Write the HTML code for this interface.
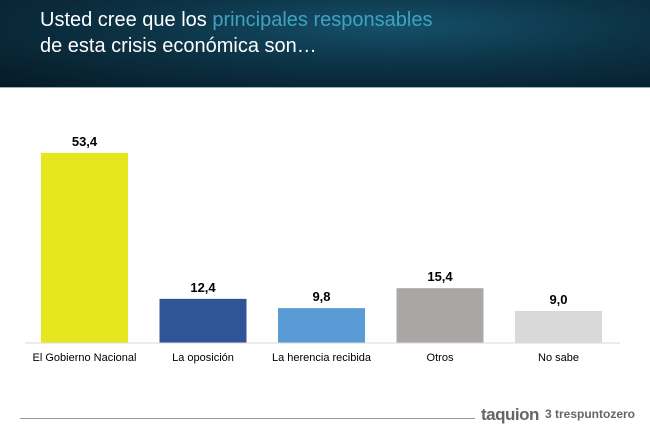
<!DOCTYPE html>
<html><head><meta charset="utf-8"><style>
body{margin:0;width:650px;height:433px;overflow:hidden;background:#fff;font-family:"Liberation Sans",sans-serif;position:relative}
#hdr{position:absolute;left:0;top:0;width:650px;height:87px;background:radial-gradient(ellipse at 60% 30%,#15506a 0%,#0c3346 45%,#061a26 100%);border-bottom:1px solid #8fb3c0}
#hdr div{position:absolute;left:40px;color:#fff;font-size:20px}
</style></head><body>
<div id="hdr">
<div style="top:9px">Usted cree que los <span style="color:#3fa3c0">principales responsables</span></div>
<div style="top:35px">de esta crisis económica son…</div>
</div>
<svg id="chart" width="650" height="433" style="position:absolute;left:0;top:0"></svg>
<div style="position:absolute;left:20px;top:418px;width:455px;height:1px;background:#999"></div>
<div style="position:absolute;left:481px;top:405px;font-size:17px;color:#666;font-weight:bold;letter-spacing:-0.5px">taquion</div>
<div style="position:absolute;left:545px;top:407px;font-size:12px;color:#666;font-weight:bold">3 trespuntozero</div>
<script>
const categories=["El Gobierno Nacional","La oposición","La herencia recibida","Otros","No sabe"];
const values=[53.4,12.4,9.8,15.4,9.0];
const labels=["53,4","12,4","9,8","15,4","9,0"];
const colors=["#e6e61e","#2f5597","#5b9bd5","#aba6a6","#d9d9d9"];
const svg=document.getElementById('chart');
const NS="http://www.w3.org/2000/svg";
const base=343,scale=3.56;
const x=i=>41+i*118.5;
const y=v=>base-v*scale;
categories.forEach((c,i)=>{
 const r=document.createElementNS(NS,'rect');
 r.setAttribute('x',x(i));r.setAttribute('y',y(values[i]));
 r.setAttribute('width',87);r.setAttribute('height',base-y(values[i]));
 r.setAttribute('fill',colors[i]);
 
 
 svg.appendChild(r);
 const t=document.createElementNS(NS,'text');
 t.setAttribute('x',x(i)+43.5);t.setAttribute('y',y(values[i])-7);
 t.setAttribute('text-anchor','middle');t.setAttribute('font-size','13');t.setAttribute('font-weight','bold');
 t.textContent=labels[i];
 
 
 svg.appendChild(t);
 const l=document.createElementNS(NS,'text');
 l.setAttribute('x',x(i)+43.5);l.setAttribute('y',361);
 l.setAttribute('text-anchor','middle');l.setAttribute('font-size','11');
 l.textContent=c;
 
 
 svg.appendChild(l);
});
const ax=document.createElementNS(NS,'line');
ax.setAttribute('x1',25);ax.setAttribute('x2',620);ax.setAttribute('y1',base);ax.setAttribute('y2',base);
ax.setAttribute('stroke','#d9d9d9');


svg.appendChild(ax);
</script>
</body></html>
